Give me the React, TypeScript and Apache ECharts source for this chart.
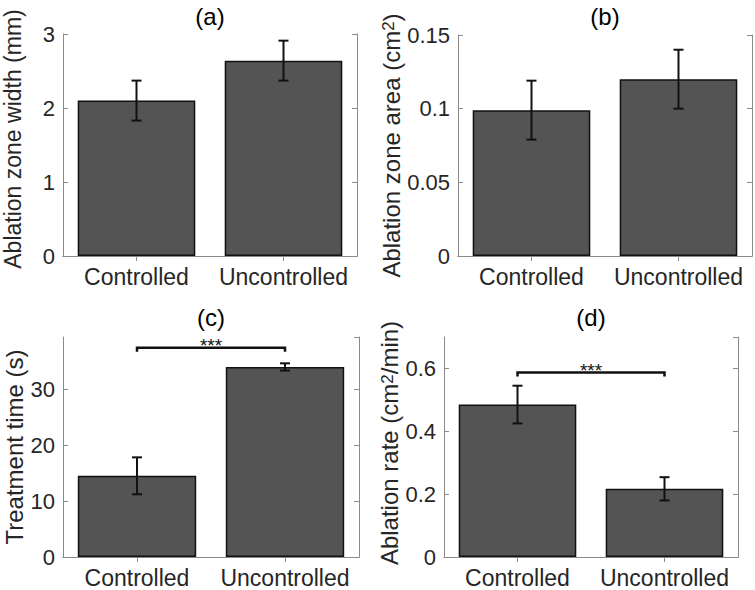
import React, { useEffect, useRef } from 'react';
import * as echarts from 'echarts';

const categories = ['Controlled', 'Uncontrolled'];
const panelTitles = ['(a)', '(b)', '(c)', '(d)'];

const widthMean = [2.1, 2.64];
const widthErr = [0.27, 0.27];
const areaMean = [0.099, 0.12];
const areaErr = [0.02, 0.02];
const timeMean = [14.5, 33.95];
const timeErr = [3.3, 0.65];
const rateMean = [0.485, 0.217];
const rateErr = [0.06, 0.037];

const yMaxes = [3, 0.15, 39.3, 0.7];
const yIntervals = [1, 0.05, 10, 0.2];
const yNames = [
  'Ablation zone width (mm)',
  'Ablation zone area (cm{sup|2})',
  'Treatment time (s)',
  'Ablation rate (cm{sup|2}/min)',
];
// significance brackets: [panel, fromCategory, toCategory, y]
const sigBrackets = [
  [2, 0, 1, 37.4],
  [3, 0, 1, 0.587],
];
const sigLabel = '***';

const means = [widthMean, areaMean, timeMean, rateMean];
const errs = [widthErr, areaErr, timeErr, rateErr];

const FONT = 'Liberation Sans, Arial, Helvetica, sans-serif';
const TXT = '#262626';
const AX = '#8a8a8a';

const grids = [
  { left: 63, top: 34, width: 294, height: 222 },
  { left: 458, top: 35, width: 294, height: 221 },
  { left: 63, top: 337, width: 296, height: 220 },
  { left: 444, top: 337, width: 294, height: 220 },
];
const nameGaps = [39, 54, 38, 40];
const namePads = [[0, 0, 0, 12], [0, 0, 0, 0], [0, 0, 0, 0], [0, 0, 0, 8]];
const nameSizes = [23, 24, 24, 24];
const showMax = [true, true, false, false];

function buildOption() {
  const xAxis: any[] = [];
  const yAxis: any[] = [];
  const series: any[] = [];
  const graphic: any[] = [];

  grids.forEach((g, p) => {
    xAxis.push({
      type: 'category',
      gridIndex: p,
      data: categories,
      position: 'bottom',
      axisLine: { show: true, lineStyle: { color: AX, width: 1 } },
      axisTick: { show: true, inside: true, alignWithLabel: true, length: 5, lineStyle: { color: AX } },
      axisLabel: { color: TXT, fontSize: 23, margin: 9, interval: 0, fontFamily: FONT },
      splitLine: { show: false },
    });
    xAxis.push({
      type: 'category',
      gridIndex: p,
      data: categories,
      position: 'top',
      axisLine: { show: true, lineStyle: { color: AX, width: 1 } },
      axisTick: { show: true, inside: true, alignWithLabel: true, length: 5, lineStyle: { color: AX } },
      axisLabel: { show: false },
      splitLine: { show: false },
    });
    yAxis.push({
      type: 'value',
      gridIndex: p,
      min: 0,
      max: yMaxes[p],
      interval: yIntervals[p],
      position: 'left',
      name: yNames[p],
      nameLocation: 'middle',
      nameGap: nameGaps[p],
      nameTextStyle: {
        color: TXT,
        fontSize: nameSizes[p],
        lineHeight: 22,
        fontFamily: FONT,
        padding: namePads[p],
        rich: { sup: { fontSize: 17, lineHeight: 17, color: TXT, fontFamily: FONT, verticalAlign: 'top', padding: [0, 0, 6, 0] } },
      },
      axisLine: { show: true, lineStyle: { color: AX, width: 1 } },
      axisTick: { show: true, inside: true, length: 5, lineStyle: { color: AX } },
      axisLabel: { color: TXT, fontSize: 22, margin: 8, fontFamily: FONT, showMaxLabel: showMax[p] },
      splitLine: { show: false },
    });
    yAxis.push({
      type: 'value',
      gridIndex: p,
      min: 0,
      max: yMaxes[p],
      interval: yIntervals[p],
      position: 'right',
      axisLine: { show: true, lineStyle: { color: AX, width: 1 } },
      axisTick: { show: true, inside: true, length: 5, lineStyle: { color: AX } },
      axisLabel: { show: false },
      splitLine: { show: false },
    });

    series.push({
      type: 'bar',
      xAxisIndex: 2 * p,
      yAxisIndex: 2 * p,
      data: means[p],
      barWidth: '80%',
      itemStyle: { color: '#545454', borderColor: '#111', borderWidth: 1.5 },
    });
    series.push({
      type: 'custom',
      xAxisIndex: 2 * p,
      yAxisIndex: 2 * p,
      encode: { x: 0, y: [1, 2] },
      data: categories.map((_, i) => [i, means[p][i] - errs[p][i], means[p][i] + errs[p][i]]),
      renderItem: (_params: any, api: any) => {
        const x = api.value(0);
        const hi = api.coord([x, api.value(2)]);
        const lo = api.coord([x, api.value(1)]);
        const w = 5;
        const st = { stroke: '#111', lineWidth: 2 };
        return {
          type: 'group',
          children: [
            { type: 'line', shape: { x1: hi[0], y1: hi[1], x2: lo[0], y2: lo[1] }, style: st },
            { type: 'line', shape: { x1: hi[0] - w, y1: hi[1], x2: hi[0] + w, y2: hi[1] }, style: st },
            { type: 'line', shape: { x1: lo[0] - w, y1: lo[1], x2: lo[0] + w, y2: lo[1] }, style: st },
          ],
        };
      },
      z: 5,
    });

    const br = sigBrackets.filter((b) => b[0] === p);
    if (br.length) {
      series.push({
        type: 'custom',
        xAxisIndex: 2 * p,
        yAxisIndex: 2 * p,
        encode: { x: [0, 1], y: 2 },
        data: br.map((b) => [b[1], b[2], b[3]]),
        renderItem: (_params: any, api: any) => {
          const a = api.coord([api.value(0), api.value(2)]);
          const b = api.coord([api.value(1), api.value(2)]);
          const d = 4;
          return {
            type: 'group',
            children: [
              {
                type: 'polyline',
                shape: { points: [[a[0], a[1] + d], [a[0], a[1]], [b[0], b[1]], [b[0], b[1] + d]] },
                style: { stroke: '#111', lineWidth: 2.5, fill: 'none' },
              },
              {
                type: 'text',
                x: (a[0] + b[0]) / 2,
                y: a[1] + 7,
                style: { text: sigLabel, fontSize: 19, fontFamily: FONT, fill: '#111', align: 'center', verticalAlign: 'bottom' },
              },
            ],
          };
        },
        z: 6,
      });
    }

    graphic.push({
      type: 'text',
      x: g.left + g.width / 2,
      y: p < 2 ? 16 : 317,
      style: { text: panelTitles[p], fontSize: 24, fontFamily: FONT, fill: '#000', align: 'center', verticalAlign: 'middle' },
    });
  });

  return {
    animation: false,
    backgroundColor: '#fff',
    textStyle: { fontFamily: FONT },
    grid: grids.map((g) => ({ ...g, containLabel: false, outerBoundsMode: 'none', show: false })),
    xAxis,
    yAxis,
    series,
    graphic,
  };
}

export default function App() {
  const ref = useRef<HTMLDivElement>(null);
  useEffect(() => {
    document.body.style.margin = '0';
    const chart = echarts.init(ref.current!, null, { renderer: 'svg' });
    chart.setOption(buildOption());
    return () => chart.dispose();
  }, []);
  return <div ref={ref} style={{ width: 755, height: 590 }} />;
}
